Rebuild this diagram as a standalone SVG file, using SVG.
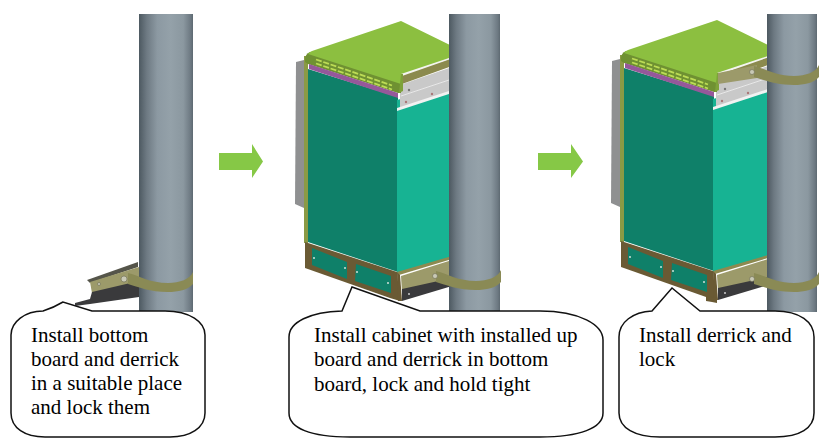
<svg xmlns="http://www.w3.org/2000/svg" width="836" height="441" viewBox="0 0 836 441">
<style>
.bubble{fill:#fff;stroke:#111;stroke-width:1.5}
.label{font-family:"Liberation Serif","Times New Roman",serif;font-size:21px;fill:#000}
.olive{fill:#8b8a4e}
.strap{fill:#8a8a55}
.brown{fill:#6a5a34}
.teal{fill:#0f8069}
.mint{fill:#17b393}
.dark{fill:#3a3a3c}
.plate{fill:#9c9a6a}
.bolt{fill:#c9c9b6;stroke:#6b6b50;stroke-width:.6}
.slit{fill:none;stroke:#bcdc55;stroke-width:1.8;stroke-dasharray:6 1.7}
.dot{fill:#cfe0d8}
.arrow{fill:#86c846}
</style>
<defs>
<linearGradient id="poleGrad" x1="0" x2="1" y1="0" y2="0">
<stop offset="0" stop-color="#4d5961"/>
<stop offset=".14" stop-color="#6d7982"/>
<stop offset=".34" stop-color="#8c99a2"/>
<stop offset=".58" stop-color="#94a1a9"/>
<stop offset=".82" stop-color="#8b98a0"/>
<stop offset=".96" stop-color="#6c7881"/>
<stop offset="1" stop-color="#5d6971"/>
</linearGradient>
<g id="cabinet">
<path d="M296 62L304 60V208L295 204Z" fill="#8f9091"/>
<path d="M304 56H308V243H304Z" fill="#8a9a45"/>
<path class="teal" d="M308 69L398 97V272L308 242Z"/>
<path class="mint" d="M397 100L452 84V257L397 273Z"/>
<path d="M400 85L452 67V91L400 109Z" fill="#c9c9c9"/>
<path d="M397 108L452 90V93L397 111Z" fill="#f2f2f2"/>
<path d="M401 96L452 79" stroke="#e8e8e8" fill="none"/>
<path d="M402 75L452 58V66L402 84Z" class="olive"/>
<path d="M400 74L452 56V58.500L402 76Z" fill="#f4f4f0"/>
<circle cx="409" cy="90" r="1.200" fill="#777"/><circle cx="432" cy="94" r="1.200" fill="#a77"/><circle cx="406" cy="102" r="1.200" fill="#a77"/>
<path d="M305 60Q305 54 310 52L401 83V93L398 93L308 64L305 62Z" fill="#6f9132"/>
<path d="M308 54Q309 52 312 51L401 21L452 46V57L401 74V84Z" fill="#8cbf40"/>
<path d="M401 74L403 74V91L399 93Z" fill="#7ea23a"/>
<path d="M309 64L398 93V98L309 69Z" fill="#95589a"/>
<path class="slit" d="M316 59.500L392 85.500"/>
<path class="slit" d="M316 63.500L392 89.500"/>
<path class="brown" d="M305 242L397 272L400 301L390 298L305 268Z"/>
<path class="teal" d="M312 248L347 262V279L312 265Z"/>
<path class="teal" d="M356 264L391 276V293L355 281Z"/>
<circle class="dot" cx="314" cy="258" r="1"/><circle class="dot" cx="345" cy="268" r="1"/><circle class="dot" cx="357" cy="272" r="1"/><circle class="dot" cx="388" cy="283" r="1"/>
<path d="M397 272L452 256V259L399 275Z" fill="#8d8a50"/>
<path class="brown" d="M397 272L400 275L402 301L398 301Z"/>
<path class="plate" d="M401 276L452 260V279L402 292Z"/>
<path class="dark" d="M402 289L452 278V286L402 301Z"/>
<circle cx="409" cy="294" r="1" fill="#ccc"/>
</g>
<path id="strapShape" class="strap" d="M0 0C12 3 22 10 40 10C52 10 62 6 65 -1V11C60 17 50 19 40 19C22 19 10 14 0 11Z"/>
</defs>

<g id="step1-install">
<path d="M87 280L138 262V267L90 283Z" fill="#55554a"/>
<path class="plate" d="M90 282L139 267V283L92 293Z"/>
<path class="dark" d="M92 292L139 281V297L90 304L75 306L75 303L90 299Z"/>
<rect x="139" y="14" width="54" height="298" fill="url(#poleGrad)"/>
<use href="#strapShape" x="128" y="273"/>
<circle class="bolt" cx="124" cy="279" r="3"/><circle class="bolt" cx="99" cy="284" r="1.500"/>
</g>

<g id="step2-install">
<use href="#cabinet"/>
<rect x="449" y="14" width="51" height="298" fill="url(#poleGrad)"/>
<use href="#strapShape" x="436" y="271"/>
<circle class="bolt" cx="435" cy="276" r="2.500"/>
</g>

<g id="step3-install">
<use href="#cabinet" transform="translate(316,-1)"/>
<path d="M712 302L706 301L706 296L717 298V303Z" class="brown"/>
<rect x="767" y="14" width="50" height="298" fill="url(#poleGrad)"/>
<path class="plate" d="M718 73L757 65V78L718 84Z"/>
<use href="#strapShape" x="754" y="66"/>
<circle class="bolt" cx="752" cy="72" r="2.500"/>
<use href="#strapShape" x="754" y="273"/>
<circle class="bolt" cx="752" cy="279" r="2.500"/>
</g>

<g id="connectors">
<path class="arrow" d="M219 153H252V144L263 161.500L252 178V170H219Z"/>
<path class="arrow" d="M538 153H571V144L583 161.500L571 178V170H538Z"/>
</g>

<g id="note1">
<path class="bubble" d="M43 311Q53 308 63 302L92 311H165C190 311 205 322 205 335V413C205 428 190 437 170 437H45C25 437 11 428 11 413V335C11 322 25 311 43 311Z"/>
<text class="label" x="31" y="342">Install bottom</text>
<text class="label" x="31" y="366">board and derrick</text>
<text class="label" x="31" y="390">in a suitable place</text>
<text class="label" x="31" y="414">and lock them</text>
</g>

<g id="note2">
<path class="bubble" d="M342 311L352 287L420 311H540C580 311 603 325 603 340V413C603 428 580 437 540 437H350C310 437 289 428 289 413V337C289 322 310 312 342 311Z"/>
<text class="label" x="314" y="342">Install cabinet with installed up</text>
<text class="label" x="314" y="366">board and derrick in bottom</text>
<text class="label" x="314" y="391">board, lock and hold tight</text>
</g>

<g id="note3">
<path class="bubble" d="M652 311L672 288L700 311H775C800 311 814 322 814 337V413C814 428 800 437 775 437H660C635 437 619 428 619 413V337C619 322 633 312 652 311Z"/>
<text class="label" x="639" y="342">Install derrick and</text>
<text class="label" x="639" y="366">lock</text>
</g>
</svg>
